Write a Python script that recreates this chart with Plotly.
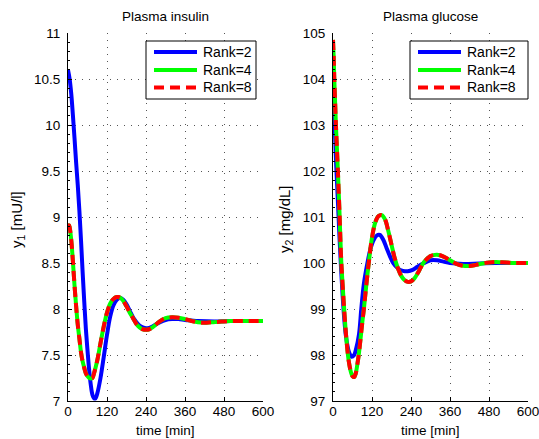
import plotly.graph_objects as go

# ---- time grids [min] and model outputs ----
t_ins_r2 = [0, 5, 10, 15, 20, 25, 30, 35, 40, 45, 50, 55, 60, 65, 70, 75, 80, 85, 90,
            100, 110, 120, 130, 140, 150, 160, 170, 180, 190, 200, 210, 220, 230, 240,
            250, 260, 280, 300, 320, 340, 360, 380, 400, 450, 500, 550, 600]
ins_r2 = [10.60, 10.50, 10.34, 10.11, 9.86, 9.59, 9.35, 9.07, 8.75, 8.40, 8.08, 7.78,
          7.55, 7.34, 7.18, 7.07, 7.03, 7.03, 7.08, 7.25, 7.48, 7.72, 7.92, 8.04, 8.10,
          8.12, 8.10, 8.05, 7.98, 7.91, 7.86, 7.82, 7.80, 7.79, 7.795, 7.81, 7.85, 7.88,
          7.89, 7.89, 7.88, 7.875, 7.87, 7.865, 7.87, 7.87, 7.87]

t_ins_r4 = [0, 3, 5, 10, 15, 20, 25, 30, 35, 40, 45, 50, 55, 60, 65, 70, 75, 80, 90,
            100, 110, 120, 130, 140, 150, 155, 165, 180, 190, 200, 210, 220, 230, 240,
            250, 260, 280, 300, 320, 340, 360, 380, 400, 420, 440, 460, 500, 550, 600]
ins_r4 = [8.89, 8.91, 8.89, 8.75, 8.52, 8.26, 8.03, 7.83, 7.68, 7.53, 7.43, 7.36, 7.30,
          7.27, 7.25, 7.245, 7.25, 7.30, 7.44, 7.63, 7.81, 7.96, 8.06, 8.11, 8.13, 8.13,
          8.11, 8.03, 7.96, 7.90, 7.84, 7.80, 7.78, 7.775, 7.78, 7.80, 7.86, 7.90, 7.91,
          7.905, 7.89, 7.87, 7.855, 7.85, 7.855, 7.86, 7.87, 7.87, 7.87]
t_ins_r8 = t_ins_r4
ins_r8 = list(ins_r4)

t_glu_r2 = [0, 3, 6, 10, 15, 20, 25, 30, 35, 40, 45, 50, 57, 65, 70, 80, 87, 95, 106,
            115, 125, 135, 144, 155, 165, 175, 185, 200, 215, 230, 245, 260, 280, 300,
            320, 340, 360, 400, 450, 500, 600]
glu_r2 = [104.0, 103.45, 102.85, 102.1, 101.35, 100.55, 99.85, 99.25, 98.75, 98.4,
          98.18, 98.05, 97.96, 98.0, 98.1, 98.45, 99.0, 99.55, 100.0, 100.3, 100.5,
          100.6, 100.61, 100.5, 100.32, 100.15, 100.0, 99.88, 99.83, 99.82, 99.85,
          99.92, 100.0, 100.06, 100.06, 100.03, 100.0, 99.98, 99.99, 100.0, 100.0]

t_glu_r4 = [0, 2, 4, 6, 9, 12, 15, 20, 25, 30, 35, 40, 46, 50, 55, 60, 65, 70, 75, 80,
            90, 95, 100, 110, 120, 130, 140, 150, 160, 170, 180, 190, 200, 210, 220,
            230, 240, 250, 260, 270, 280, 300, 320, 340, 360, 380, 400, 420, 440, 460,
            480, 500, 520, 560, 600]
glu_r4 = [104.85, 104.5, 104.0, 103.6, 103.0, 102.5, 102.0, 101.1, 100.1, 99.48, 98.92,
          98.45, 98.0, 97.8, 97.63, 97.54, 97.52, 97.6, 97.8, 98.05, 98.7, 99.0, 99.35,
          100.0, 100.55, 100.88, 101.02, 101.04, 100.95, 100.7, 100.4, 100.1, 99.88,
          99.72, 99.63, 99.59, 99.6, 99.66, 99.77, 99.9, 100.02, 100.15, 100.18,
          100.14, 100.06, 99.98, 99.94, 99.935, 99.96, 99.99, 100.01, 100.02, 100.015,
          100.0, 100.0]
t_glu_r8 = t_glu_r4
glu_r8 = list(glu_r4)

series_names = ["Rank=2", "Rank=4", "Rank=8"]
x_ticks = [0, 120, 240, 360, 480, 600]
ins_ticks = [7, 7.5, 8, 8.5, 9, 9.5, 10, 10.5, 11]
glu_ticks = [97, 98, 99, 100, 101, 102, 103, 104, 105]

FONT = "Liberation Sans, Arial, sans-serif"
FS = 13.5
DASH = "10px,6px"
STYLES = [dict(color="#0000ff", width=4),
          dict(color="#00ff00", width=4),
          dict(color="#ff0000", width=4, dash=DASH)]

W, H = 539, 439
fig = go.Figure()


def add_panel(xa, ya, data):
    for name, style, (t, v) in zip(series_names, STYLES, data):
        fig.add_trace(go.Scatter(x=t, y=v, mode="lines", name=name,
                                 line=dict(shape="spline", **style),
                                 xaxis=xa, yaxis=ya, showlegend=False))


add_panel("x", "y", [(t_ins_r2, ins_r2), (t_ins_r4, ins_r4), (t_ins_r8, ins_r8)])
add_panel("x2", "y2", [(t_glu_r2, glu_r2), (t_glu_r4, glu_r4), (t_glu_r8, glu_r8)])

left_dom = [68 / W, 263 / W]
right_dom = [333 / W, 528 / W]
y_dom = [1 - 401 / H, 1 - 33 / H]

common_x = dict(range=[0, 600], tickvals=x_ticks, showline=True, linecolor="black",
                linewidth=1, ticks="inside", ticklen=4, tickcolor="black",
                showgrid=True, gridcolor="#555555", griddash="1px,6px", gridwidth=1,
                zeroline=False, tickfont=dict(family=FONT, size=FS, color="black"),
                ticklabelstandoff=-2, ticklabeloverflow="allow", automargin=False,
                fixedrange=True)
common_y = dict(showline=True, linecolor="black", linewidth=1, ticks="inside",
                ticklen=4, tickcolor="black", showgrid=True, gridcolor="#555555",
                griddash="1px,6px", gridwidth=1, zeroline=False,
                tickfont=dict(family=FONT, size=FS, color="black"), ticklabelstandoff=4,
                automargin=False, fixedrange=True)

fig.update_layout(
    width=W, height=H, margin=dict(l=0, r=0, t=0, b=0, autoexpand=False),
    paper_bgcolor="white", plot_bgcolor="white", showlegend=False,
    xaxis=dict(domain=left_dom, anchor="y", **common_x),
    yaxis=dict(domain=y_dom, anchor="x", range=[7, 11], tickvals=ins_ticks,
               ticktext=["7", "7.5", "8", "8.5", "9", "9.5", "10", "10.5", "11"],
               minor=dict(dtick=0.1, ticks="inside", ticklen=2, tickcolor="black",
                          showgrid=False), **common_y),
    xaxis2=dict(domain=right_dom, anchor="y2", **common_x),
    yaxis2=dict(domain=y_dom, anchor="x2", range=[97, 105], tickvals=glu_ticks,
                minor=dict(dtick=0.2, ticks="inside", ticklen=2, tickcolor="black",
                           showgrid=False), **common_y),
)


def px(x):
    return x / W


def py(y):
    return 1 - y / H


# legend boxes: (box left, box right, sample start) in pixels
legend_boxes = [(146, 256, 154), (410, 528, 418)]
entry_rows = [52, 70, 87.5]
for bx0, bx1, sx in legend_boxes:
    fig.add_shape(type="rect", xref="paper", yref="paper", layer="above",
                  x0=px(bx0), x1=px(bx1), y0=py(99), y1=py(41),
                  line=dict(color="black", width=1), fillcolor="white")
    for name, style, ry in zip(series_names, STYLES, entry_rows):
        fig.add_shape(type="line", xref="paper", yref="paper", layer="above",
                      x0=px(sx), x1=px(sx + 43), y0=py(ry), y1=py(ry), line=style)
        fig.add_annotation(xref="paper", yref="paper", showarrow=False,
                           x=px(sx + 47), y=py(ry), xanchor="left", yanchor="middle",
                           text=name, font=dict(family=FONT, size=14, color="black"))

# panel titles and axis labels
txt = dict(family=FONT, size=FS, color="black")
ylab = dict(family=FONT, size=15, color="black")
ann = [
    dict(text="Plasma insulin", x=px((68 + 263) / 2), y=py(17), font=txt),
    dict(text="Plasma glucose", x=px((333 + 528) / 2), y=py(17), font=txt),
    dict(text="time [min]", x=px((68 + 263) / 2), y=py(430), font=txt),
    dict(text="time [min]", x=px((333 + 528) / 2), y=py(430), font=txt),
    dict(text="y<sub>1</sub> [mU/l]", x=px(17), y=py(220), textangle=-90, font=ylab),
    dict(text="y<sub>2</sub> [mg/dL]", x=px(285), y=py(219), textangle=-90, font=ylab),
]
for a in ann:
    fig.add_annotation(xref="paper", yref="paper", showarrow=False,
                       xanchor="center", yanchor="middle", **a)

fig.write_html("out.html")
